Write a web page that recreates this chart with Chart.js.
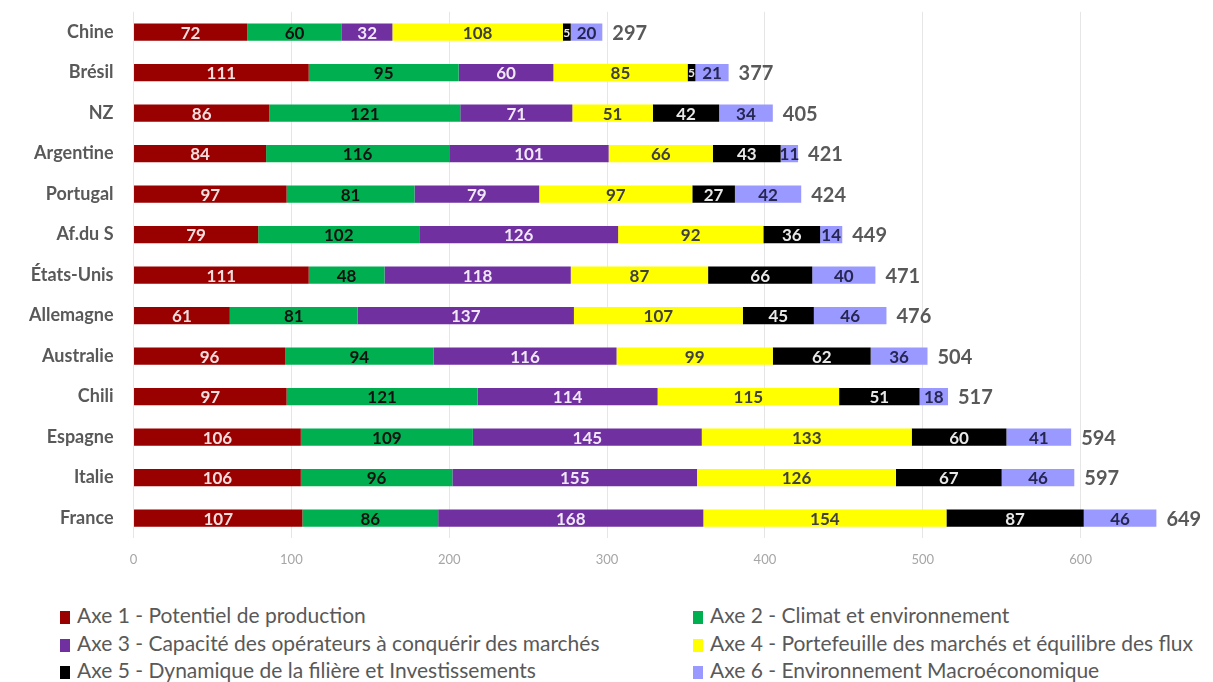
<!DOCTYPE html>
<html>
<head>
<meta charset="utf-8">
<script src="https://cdn.jsdelivr.net/npm/chart.js@4"></script>
<style>
    body { margin: 0; background: #fff; width: 1213px; height: 682px; overflow: hidden; position: relative; font-family: Lato, sans-serif; }
    #wrap { position: absolute; left: 0; top: -11px; width: 1213px; height: 607px; }
    #legend { position: absolute; left: 0; top: 603px; width: 1213px; }
    .item { position: absolute; font-size: 21px; color: #595959; white-space: nowrap; line-height: 24px; }
    .item span.sw { display: inline-block; width: 10px; height: 13px; margin-right: 7px; vertical-align: -1px; }
</style>
</head>
<body>
<div id="wrap"><canvas id="chart"></canvas></div>
<div id="legend"></div>
<script>
const countries = ["Chine", "Brésil", "NZ", "Argentine", "Portugal", "Af.du S", "États-Unis",
    "Allemagne", "Australie", "Chili", "Espagne", "Italie", "France"];

const axe1 = [72, 111, 86, 84, 97, 79, 111, 61, 96, 97, 106, 106, 107];
const axe2 = [60, 95, 121, 116, 81, 102, 48, 81, 94, 121, 109, 96, 86];
const axe3 = [32, 60, 71, 101, 79, 126, 118, 137, 116, 114, 145, 155, 168];
const axe4 = [108, 85, 51, 66, 97, 92, 87, 107, 99, 115, 133, 126, 154];
const axe5 = [5, 5, 42, 43, 27, 36, 66, 45, 62, 51, 60, 67, 87];
const axe6 = [20, 21, 34, 11, 42, 14, 40, 46, 36, 18, 41, 46, 46];
const totals = [297, 377, 405, 421, 424, 449, 471, 476, 504, 517, 594, 597, 649];

const seriesNames = [
    "Axe 1 - Potentiel de production",
    "Axe 2 - Climat et environnement",
    "Axe 3 - Capacité des opérateurs à conquérir des marchés",
    "Axe 4 - Portefeuille des marchés et équilibre des flux",
    "Axe 5 - Dynamique de la filière et Investissements",
    "Axe 6 - Environnement Macroéconomique",
];
const seriesData = [axe1, axe2, axe3, axe4, axe5, axe6];
const colors = ["#990000", "#00B050", "#7030A0", "#FFFF00", "#000000", "#9999FF"];
const labelColors = ["#f4dede", "#111111", "#f0e8f8", "#404040", "#e8e8e8", "#262652"];

const FONT = "Lato, sans-serif";

// value labels inside each segment + totals at the end
const labelPlugin = {
    id: "labels",
    afterDatasetsDraw(chart) {
        const ctx = chart.ctx;
        ctx.save();
        ctx.textBaseline = "middle";
        chart.data.datasets.forEach((ds, i) => {
            const meta = chart.getDatasetMeta(i);
            ctx.fillStyle = labelColors[i];
            ctx.textAlign = "center";
            meta.data.forEach((bar, j) => {
                const cx = (bar.x + bar.base) / 2;
                const w = Math.abs(bar.x - bar.base);
                ctx.font = (w < 12 ? "bold 12px " : "bold 17px ") + FONT;
                ctx.fillText(ds.data[j], cx, bar.y + 1);
            });
        });
        const last = chart.getDatasetMeta(chart.data.datasets.length - 1);
        ctx.font = "bold 20px " + FONT;
        ctx.fillStyle = "#595959";
        ctx.textAlign = "left";
        last.data.forEach((bar, j) => {
            ctx.fillText(totals[j], bar.x + 10, bar.y + 1);
        });
        ctx.restore();
    },
};

new Chart(document.getElementById("chart"), {
    type: "bar",
    data: {
        labels: countries,
        datasets: seriesData.map((d, i) => ({
            label: seriesNames[i],
            data: d,
            backgroundColor: colors[i],
            borderWidth: 0,
            categoryPercentage: 0.85,
            barPercentage: 0.5,
        })),
    },
    options: {
        indexAxis: "y",
        responsive: true,
        maintainAspectRatio: false,
        animation: false,
        layout: { padding: { top: 12, bottom: 14, right: 0, left: 17 } },
        plugins: { legend: { display: false }, tooltip: { enabled: false } },
        scales: {
            x: {
                stacked: true,
                min: 0,
                max: 675,
                border: { display: false },
                grid: {
                    drawTicks: false,
                    color: (c) => (c.tick && c.tick.value % 100 === 0 ? "#e6e6e6" : "rgba(0,0,0,0)"),
                },
                ticks: {
                    stepSize: 100,
                    padding: 14,
                    color: "#a6a6a6",
                    font: { family: FONT, size: 13 },
                    callback: (v) => (v % 100 === 0 ? v : ""),
                },
            },
            y: {
                stacked: true,
                border: { display: false },
                grid: { display: false },
                ticks: {
                    padding: 12,
                    color: "#595959",
                    font: { family: FONT, size: 18, weight: "bold" },
                },
            },
        },
    },
    plugins: [labelPlugin],
});

// two-column legend under the chart
const legend = document.getElementById("legend");
seriesNames.forEach((name, i) => {
    const el = document.createElement("div");
    el.className = "item";
    el.style.left = (i % 2 === 0 ? 60 : 693) + "px";
    el.style.top = Math.floor(i / 2) * 27.5 + "px";
    el.innerHTML = '<span class="sw" style="background:' + colors[i] + '"></span>' + name;
    legend.appendChild(el);
});
</script>
</body>
</html>
